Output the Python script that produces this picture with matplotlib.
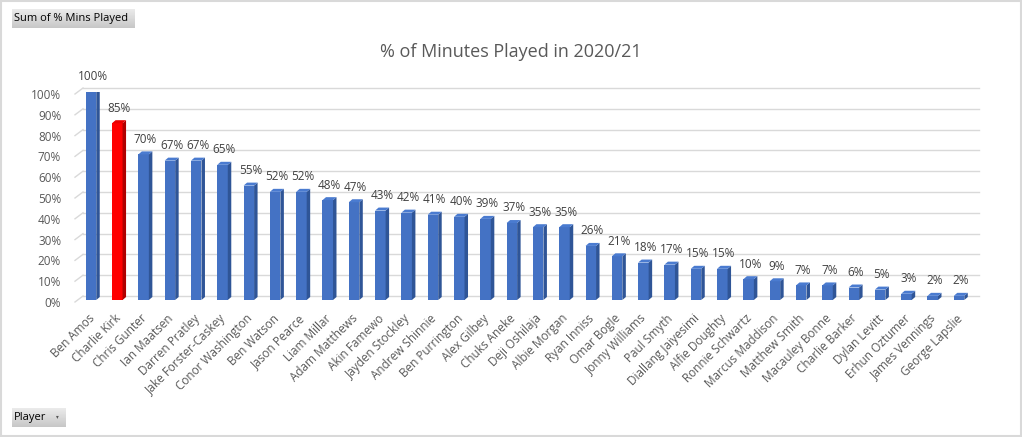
import numpy as np
import matplotlib
matplotlib.use("Agg")
import matplotlib.pyplot as plt
from matplotlib.patches import Polygon, Rectangle
from matplotlib.ticker import PercentFormatter
from matplotlib.transforms import ScaledTranslation

players = ["Ben Amos", "Charlie Kirk", "Chris Gunter", "Ian Maatsen", "Darren Pratley",
           "Jake Forster-Caskey", "Conor Washington", "Ben Watson", "Jason Pearce",
           "Liam Millar", "Adam Matthews", "Akin Famewo", "Jayden Stockley",
           "Andrew Shinnie", "Ben Purrington", "Alex Gilbey", "Chuks Aneke",
           "Deji Oshilaja", "Albie Morgan", "Ryan Inniss", "Omar Bogle",
           "Jonny Williams", "Paul Smyth", "Diallang Jaiyesimi", "Alfie Doughty",
           "Ronnie Schwartz", "Marcus Maddison", "Matthew Smith", "Macauley Bonne",
           "Charlie Barker", "Dylan Levitt", "Erhun Oztumer", "James Vennings",
           "George Lapslie"]
pct_played = [1.00, 0.85, 0.70, 0.67, 0.67, 0.65, 0.55, 0.52, 0.52, 0.48, 0.47,
              0.43, 0.42, 0.41, 0.40, 0.39, 0.37, 0.35, 0.35, 0.26, 0.21, 0.18,
              0.17, 0.15, 0.15, 0.10, 0.09, 0.07, 0.07, 0.06, 0.05, 0.03, 0.02,
              0.02]
highlight = "Charlie Kirk"

plt.rcParams["font.family"] = ["Open Sans", "DejaVu Sans"]

W, H = 1022, 437
fig = plt.figure(figsize=(W / 100, H / 100), dpi=100)

# plot area in pixels (front plane of the bars)
ax_left, ax_right = 77.85, 972.2
ax_bottom, ax_top = 300, 92
ax = fig.add_axes([ax_left / W, (H - ax_bottom) / H,
                   (ax_right - ax_left) / W, (ax_bottom - ax_top) / H])
n = len(players)
ax.set_xlim(-0.5, n - 0.5)
ax.set_ylim(0, 1)
px_x = n / (ax_right - ax_left)
px_y = 1 / (ax_bottom - ax_top)

grid_col = "#D9D9D9"
yticks = np.arange(0, 1.01, 0.1)
x_back_l = -0.5 + (83 - ax_left) * px_x
x_back_r = -0.5 + (979 - ax_left) * px_x
x_front_l = -0.5 + (75 - ax_left) * px_x
for t in yticks:
    ax.plot([x_back_l, x_back_r], [t + 4 * px_y] * 2, color=grid_col, lw=1,
            clip_on=False, zorder=0)
    ax.plot([x_front_l, x_back_l], [t - 2 * px_y, t + 4 * px_y], color=grid_col,
            lw=1, clip_on=False, zorder=0)

# 3D-looking columns
x = np.arange(n)
bw = 10.5 * px_x
dx, dy = 3.5 * px_x, 3 * px_y
front = ["#FF0000" if p == highlight else "#4472C4" for p in players]
side = ["#B00000" if p == highlight else "#2F5597" for p in players]
top = ["#E80000" if p == highlight else "#4A7BD0" for p in players]
ax.bar(x, pct_played, width=bw, color=front, zorder=3)
for i, v in enumerate(pct_played):
    r = i + bw / 2
    ax.add_patch(Polygon([(r, 0), (r, v), (r + dx, v + dy), (r + dx, dy)],
                         closed=True, color=side[i], zorder=3, lw=0))
    ax.add_patch(Polygon([(i - bw / 2, v), (r, v), (r + dx, v + dy),
                          (i - bw / 2 + dx, v + dy)],
                         closed=True, color=top[i], zorder=3, lw=0))
    ax.annotate(f"{v:.0%}", (i + dx / 2, v + dy), xytext=(0, 4),
                textcoords="offset points", ha="center", va="bottom",
                fontsize=8.5, color="#404040", annotation_clip=False)

ax.set_yticks(yticks)
ax.yaxis.set_major_formatter(PercentFormatter(1.0, decimals=0))
ax.set_xticks(x)
ax.set_xticklabels(players, rotation=45, ha="right", rotation_mode="anchor")
ax.tick_params(axis="x", length=0, pad=5, labelsize=8.5, labelcolor="#595959")
ax.tick_params(axis="y", length=0, pad=12, labelsize=8.5, labelcolor="#595959")
for lab in ax.get_xticklabels():
    lab.set_transform(lab.get_transform()
                      + ScaledTranslation(-0.03, -0.05, fig.dpi_scale_trans))
for lab in ax.get_yticklabels():
    lab.set_transform(lab.get_transform()
                      + ScaledTranslation(0, -0.02, fig.dpi_scale_trans))
for s in ax.spines.values():
    s.set_visible(False)

fig.text(0.5, (H - 52) / H, "% of Minutes Played in 2020/21", ha="center",
         va="center", fontsize=13, color="#595959")


# pivot chart field buttons (grey gradient)
def field_button(x0, y0, w, h, label):
    bax = fig.add_axes([x0 / W, (H - y0 - h) / H, w / W, h / H])
    grad = np.linspace(0.92, 0.78, 32).reshape(-1, 1)
    bax.imshow(grad, cmap="gray", vmin=0, vmax=1, aspect="auto",
               extent=[0, 1, 0, 1])
    bax.set_axis_off()
    fig.text((x0 + 2) / W, (H - y0 - h / 2) / H, label, ha="left",
             va="center", fontsize=8, color="black")


field_button(12, 9, 123, 19, "Sum of % Mins Played")
field_button(12, 408, 54, 19, "Player")
fig.text(57 / W, (H - 417) / H, "\u25be", ha="center", va="center",
         fontsize=4, color="#555555")

# chart border
fig.patches.append(Rectangle((0.5 / W, 1.5 / H), 1020 / W, 434.5 / H,
                             transform=fig.transFigure, fill=False,
                             edgecolor=grid_col, lw=1.5))

fig.savefig("out.png", dpi=100)
